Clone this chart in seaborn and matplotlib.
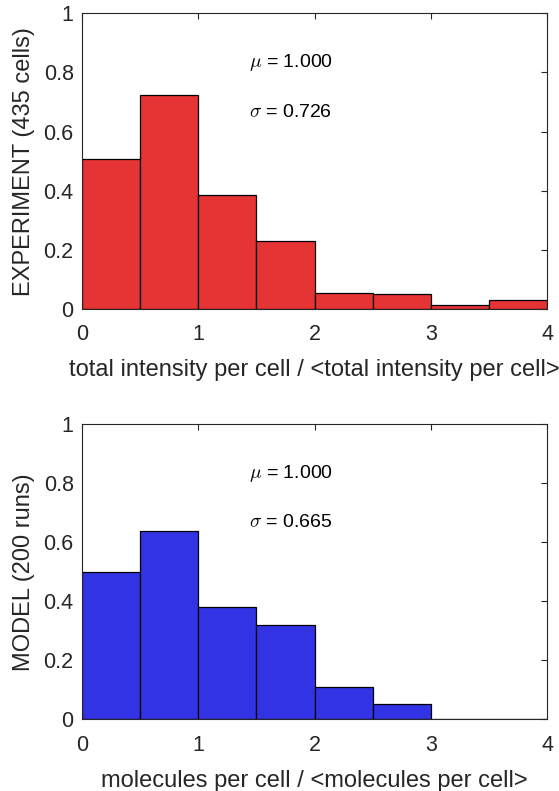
import numpy as np
import pandas as pd
import matplotlib
matplotlib.use("Agg")
import matplotlib.pyplot as plt
import seaborn as sns

# ---- data ----
bin_edges = [0, 0.5, 1.0, 1.5, 2.0, 2.5, 3.0, 3.5, 4.0]
bin_centers = [0.25, 0.75, 1.25, 1.75, 2.25, 2.75, 3.25, 3.75]
exp_heights = [0.506, 0.725, 0.385, 0.230, 0.054, 0.050, 0.014, 0.030]
model_heights = [0.499, 0.638, 0.380, 0.319, 0.110, 0.051, 0.0, 0.0]
xticks = [0, 1, 2, 3, 4]
yticks = [0, 0.2, 0.4, 0.6, 0.8, 1.0]
exp_mu, exp_sigma = "1.000", "0.726"
model_mu, model_sigma = "1.000", "0.665"
exp_ylabel = "EXPERIMENT (435 cells)"
model_ylabel = "MODEL (200 runs)"
exp_xlabel = "total intensity per cell / <total intensity per cell>"
model_xlabel = "molecules per cell / <molecules per cell>"

sns.set_style("white")
plt.rcParams['font.family'] = ['Liberation Sans', 'DejaVu Sans']
plt.rcParams['mathtext.fontset'] = 'cm'

fig = plt.figure(figsize=(5.59, 7.91), dpi=100)
ax1 = fig.add_axes([0.1467, 0.6093, 0.832, 0.374])
ax2 = fig.add_axes([0.1467, 0.0906, 0.832, 0.373])

panels = [
    (ax1, exp_heights, "#E63333", exp_ylabel, exp_xlabel, exp_mu, exp_sigma),
    (ax2, model_heights, "#3333E6", model_ylabel, model_xlabel, model_mu, model_sigma),
]

for ax, h, col, yl, xl, mu, sg in panels:
    df = pd.DataFrame({"x": bin_centers, "w": h})
    sns.histplot(data=df, x="x", weights="w", bins=bin_edges, stat="count",
                 color=col, alpha=1.0, edgecolor="black", linewidth=0.9, ax=ax)
    ax.set_xlim(0, 4)
    ax.set_ylim(0, 1)
    ax.set_xticks(xticks)
    ax.set_yticks(yticks)
    ax.set_xticklabels([str(t) for t in xticks])
    ax.set_yticklabels(["0", "0.2", "0.4", "0.6", "0.8", "1"])
    ax.tick_params(direction="in", top=True, right=True, length=4,
                   width=0.8, colors="#262626", labelsize=15.5)
    ax.tick_params(axis="x", pad=11)
    ax.tick_params(axis="y", pad=6)
    for s in ax.spines.values():
        s.set_visible(True)
        s.set_color("#262626")
        s.set_linewidth(0.8)
    ax.set_ylabel(yl, fontsize=17, color="#262626", labelpad=6)
    ax.set_xlabel(xl, fontsize=17, color="#262626", labelpad=10)
    ax.text(1.44, 0.834, r"$\mu$ = " + mu, fontsize=14, va="center", ha="left", color="black")
    ax.text(1.44, 0.666, r"$\sigma$ = " + sg, fontsize=14, va="center", ha="left", color="black")

fig.savefig("out.png", dpi=100)
